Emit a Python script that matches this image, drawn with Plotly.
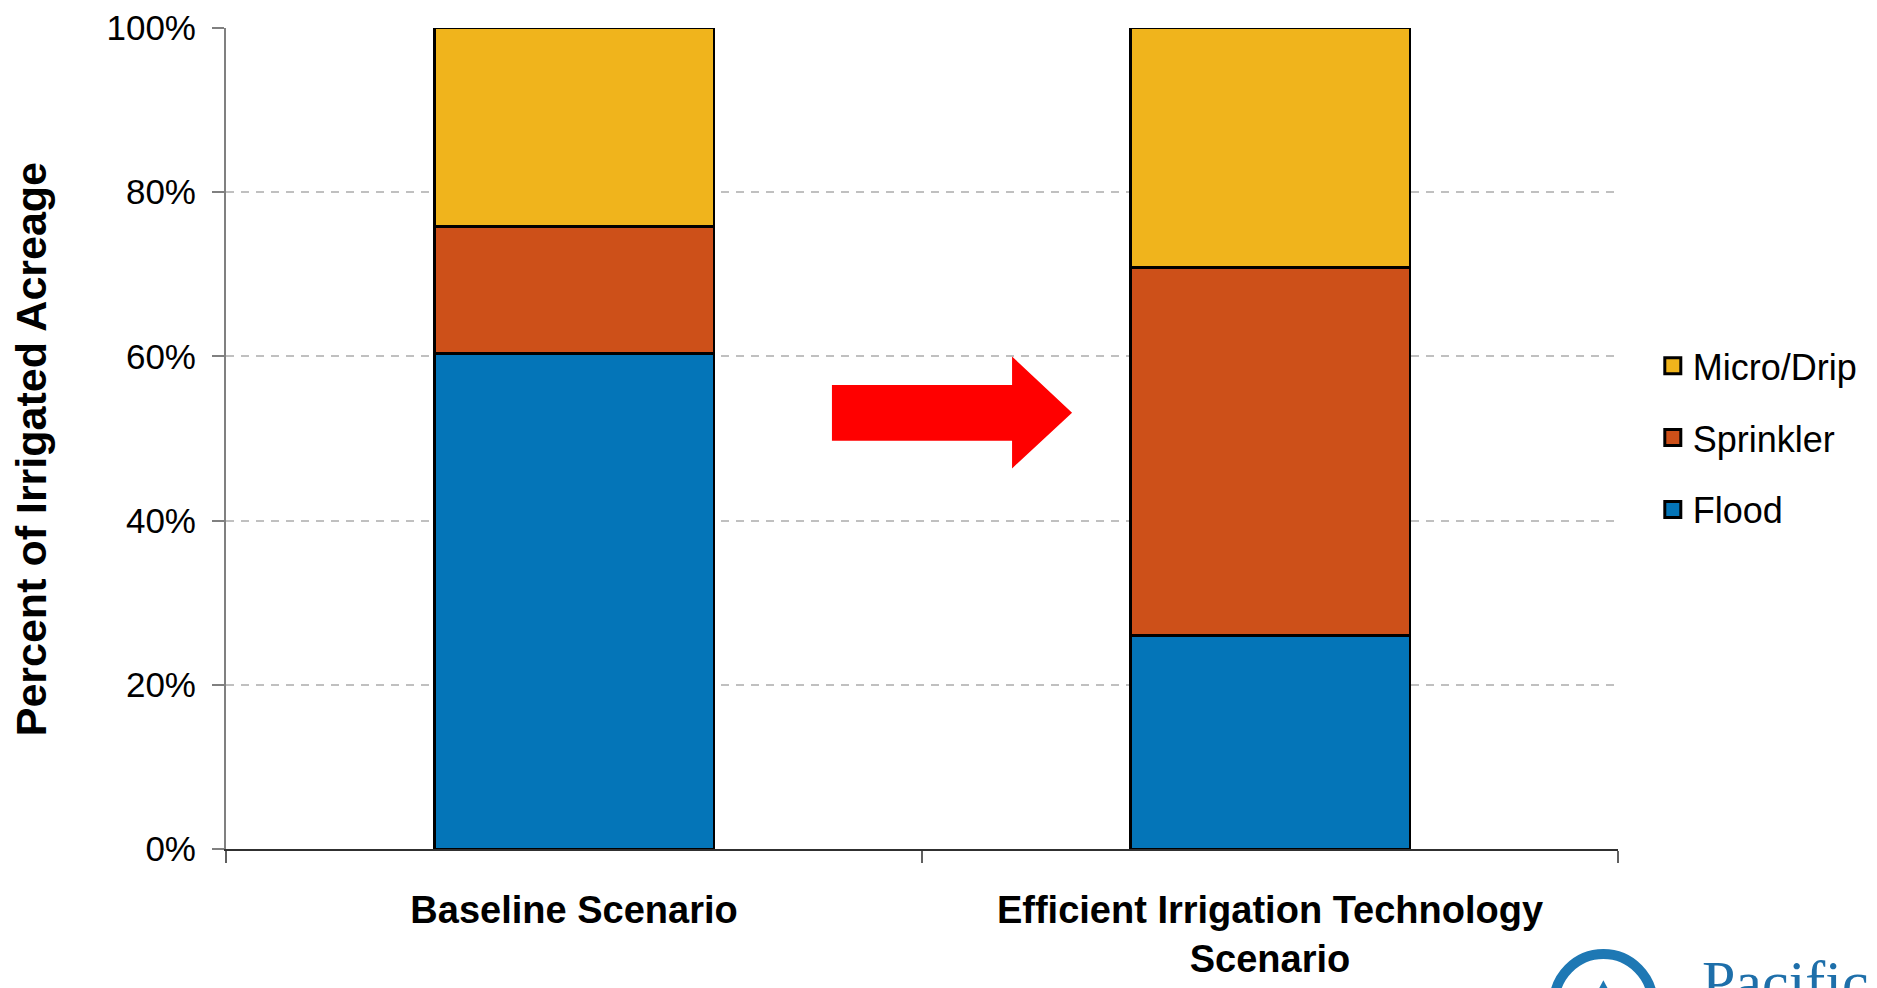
import plotly.graph_objects as go

categories = ["Baseline Scenario", "Efficient Irrigation Technology<br>Scenario"]
flood = [60.4, 26.0]
sprinkler = [15.4, 44.8]
micro_drip = [24.2, 29.2]
y_ticks = [0, 20, 40, 60, 80, 100]
y_tick_labels = ["0%", "20%", "40%", "60%", "80%", "100%"]

series = [
    ("Flood", flood, "#0475B8"),
    ("Sprinkler", sprinkler, "#CD5019"),
    ("Micro/Drip", micro_drip, "#F0B41C"),
]

FONT = "Liberation Sans, Arial, sans-serif"

fig = go.Figure()
for name, vals, col in series:
    fig.add_trace(go.Bar(
        x=categories, y=vals, name=name, showlegend=False,
        marker=dict(color=col, line=dict(color="black", width=2.8)),
    ))

# legend entries (top to bottom: Micro/Drip, Sprinkler, Flood)
for name, vals, col in reversed(series):
    fig.add_trace(go.Scatter(
        x=[None], y=[None], mode="markers", name=name, legendgroup=name,
        marker=dict(symbol="square", size=16, color=col, line=dict(color="black", width=3)),
    ))

fig.update_layout(
    width=1869, height=980,
    margin=dict(l=218, r=259, t=20, b=139),
    paper_bgcolor="white", plot_bgcolor="white",
    barmode="stack", bargap=0.598,
    font=dict(family=FONT, size=35, color="black"),
    showlegend=True,
    legend=dict(
        x=1.025, xanchor="left", y=0.625, yanchor="top",
        font=dict(family=FONT, size=36, color="black"),
        tracegroupgap=22, bgcolor="rgba(0,0,0,0)",
        itemsizing="trace",
    ),
    xaxis=dict(
        automargin=False,
        showline=True, linecolor="#303030", linewidth=2,
        ticks="outside", ticklen=12, tickwidth=2, tickcolor="#606060",
        tickson="boundaries", showgrid=False,
        tickfont=dict(family=FONT, size=38, color="black", weight="bold"),
        ticklabelstandoff=26,
    ),
    yaxis=dict(
        automargin=False,
        range=[0, 100], tickvals=y_ticks, ticktext=y_tick_labels,
        showline=True, linecolor="#808080", linewidth=2,
        ticks="outside", ticklen=12, tickwidth=2, tickcolor="#808080",
        showgrid=True, gridcolor="#C0C0C0", gridwidth=1.5, griddash="8px,7px",
        zeroline=False,
        tickfont=dict(family=FONT, size=35, color="black"),
        ticklabelstandoff=9,
    ),
)

# y-axis title
fig.add_annotation(
    text="<b>Percent of Irrigated Acreage</b>", textangle=-90,
    xref="paper", yref="paper", x=-0.140, y=0.487,
    xanchor="center", yanchor="middle", showarrow=False,
    font=dict(family=FONT, size=43, color="black"),
)

# red block arrow
fig.add_shape(
    type="path", xref="paper", yref="paper",
    path=("M 0.4353 0.5653 L 0.5647 0.5653 L 0.5647 0.5999 L 0.6078 0.5315 "
          "L 0.5647 0.4636 L 0.5647 0.4973 L 0.4353 0.4973 Z"),
    fillcolor="#FF0000", line=dict(width=0),
)

# partial logo at bottom right
fig.add_shape(
    type="circle", xref="paper", yref="paper",
    x0=0.954, x1=1.025, y0=-0.250, y1=-0.128,
    line=dict(color="#1E78B4", width=10), fillcolor="white",
)
fig.add_shape(
    type="path", xref="paper", yref="paper",
    path="M 0.972 -0.215 L 0.9895 -0.160 L 1.007 -0.215 Z",
    fillcolor="#1E78B4", line=dict(width=0),
)
fig.add_annotation(
    text="Pacific", xref="paper", yref="paper", x=1.059, y=-0.119,
    xanchor="left", yanchor="top", showarrow=False,
    font=dict(family="Liberation Serif, Times New Roman, serif", size=60, color="#1E6FAA"),
)

fig.write_html("out.html")
